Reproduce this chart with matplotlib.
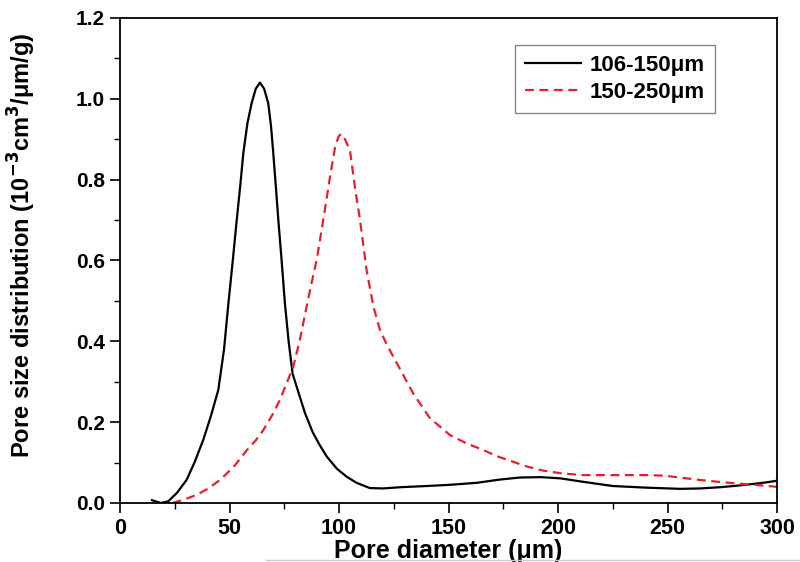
import matplotlib
matplotlib.use("Agg")
import matplotlib.pyplot as plt
from matplotlib.ticker import MultipleLocator
from matplotlib.lines import Line2D

plt.rcParams['font.family'] = ['Liberation Sans', 'DejaVu Sans']
plt.rcParams['font.weight'] = 'bold'

# 106-150 um series
x_small = [14.6, 18.6, 22, 26, 30.4, 34, 38, 41.5, 44.9, 47.5, 49.5, 51.5, 53.3, 55, 56.3,
           58.2, 60.1, 62, 63.9, 65.8, 67.7, 69, 70, 71.2, 72.3, 73.8, 75.3, 77, 78.8, 81.4,
           84.5, 88, 91, 94.4, 99, 103.5, 108, 114, 120, 128, 140, 150.7, 163, 173.5, 182.6,
           192, 201, 212, 225, 240, 255.7, 265, 274, 282, 289, 295, 300]
y_small = [0.007, 0.0, 0.004, 0.025, 0.057, 0.10, 0.156, 0.215, 0.28, 0.38, 0.494, 0.60,
           0.70, 0.79, 0.865, 0.94, 0.989, 1.025, 1.04, 1.025, 0.989, 0.93, 0.865, 0.78,
           0.70, 0.60, 0.494, 0.40, 0.32, 0.275, 0.222, 0.175, 0.145, 0.115, 0.085, 0.065,
           0.05, 0.037, 0.036, 0.039, 0.042, 0.045, 0.05, 0.058, 0.063, 0.064, 0.061, 0.052,
           0.042, 0.038, 0.035, 0.036, 0.039, 0.043, 0.047, 0.051, 0.055]

# 150-250 um series
x_large = [24, 30, 35, 40, 45.7, 52, 57.8, 62, 65.4, 70, 73, 76, 79.1, 82, 85.2, 87.5, 89.8,
           92.8, 95.9, 98.2, 99.8, 100.9, 102.3, 105, 107.3, 109.6, 112.6, 115.7, 118.7, 122,
           125.6, 129, 134, 141.5, 150.7, 158, 165.9, 172, 179.5, 186, 193.3, 202, 211.6,
           222, 234, 242, 249.6, 257, 264.8, 272, 280, 290, 300]
y_large = [0.0, 0.01, 0.02, 0.035, 0.057, 0.09, 0.13, 0.155, 0.18, 0.222, 0.255, 0.295,
           0.337, 0.40, 0.486, 0.545, 0.601, 0.70, 0.807, 0.88, 0.907, 0.913, 0.905, 0.873,
           0.78, 0.70, 0.576, 0.486, 0.428, 0.39, 0.354, 0.32, 0.27, 0.21, 0.168, 0.148,
           0.131, 0.116, 0.102, 0.09, 0.08, 0.073, 0.069, 0.069, 0.069, 0.069, 0.067, 0.062,
           0.057, 0.053, 0.049, 0.045, 0.04]

labels = ['106-150\u03bcm', '150-250\u03bcm']

fig = plt.figure(figsize=(8, 5.62), dpi=100)
ax = fig.add_axes([0.15, 0.105, 0.82125, 0.863])

ax.plot(x_small, y_small, color='black', lw=1.6, label=labels[0])
l2, = ax.plot(x_large, y_large, color='#e3202c', lw=1.6, label=labels[1])
l2.set_dashes([4, 2.5])

ax.set_xlim(0, 300)
ax.set_ylim(0, 1.2)
ax.xaxis.set_major_locator(MultipleLocator(50))
ax.xaxis.set_minor_locator(MultipleLocator(25))
ax.yaxis.set_major_locator(MultipleLocator(0.2))
ax.yaxis.set_minor_locator(MultipleLocator(0.1))
ax.yaxis.set_major_formatter(plt.FormatStrFormatter('%.1f'))
ax.tick_params(which='major', direction='out', length=7, width=1.2, pad=4)
ax.tick_params(axis='x', which='major', labelsize=15.5)
ax.tick_params(axis='y', which='major', labelsize=15)
ax.tick_params(which='minor', direction='out', length=4, width=1.0)
for lab in ax.get_xticklabels() + ax.get_yticklabels():
    lab.set_fontweight('bold')
for s in ax.spines.values():
    s.set_linewidth(1.3)

ax.set_xlabel('Pore diameter (\u03bcm)', fontsize=18, fontweight='bold', labelpad=0)
ax.set_ylabel('Pore size distribution (10$^{\\mathbf{-3}}$cm$^{\\mathbf{3}}$/\u03bcm/g)',
              fontsize=17, fontweight='bold')
ax.yaxis.set_label_coords(-0.125, 0.532)

leg = ax.legend(loc='upper right', bbox_to_anchor=(0.9056, 0.944), borderaxespad=0,
                frameon=True, fancybox=False, edgecolor='#666666', handlelength=2.5,
                borderpad=0.45, labelspacing=0.25, handletextpad=0.4,
                prop={'weight': 'bold', 'size': 16})
leg.get_frame().set_linewidth(1.0)

# faint scan line under the x label
fig.add_artist(Line2D([0.333, 1.0], [0.004, 0.004], transform=fig.transFigure,
                      color='#cccccc', lw=1.0))

fig.savefig('out.png', dpi=100)
